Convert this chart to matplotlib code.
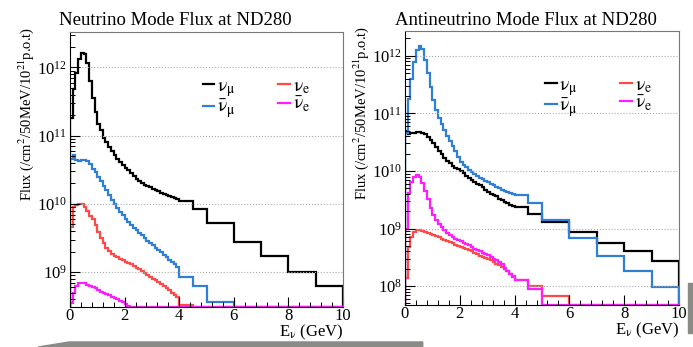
"""T2K ND280 flux predictions in neutrino and antineutrino mode."""
import numpy as np
import matplotlib
matplotlib.use('Agg')
import matplotlib.pyplot as plt
from matplotlib.patches import Polygon, Rectangle
from matplotlib.ticker import MultipleLocator, LogLocator, NullFormatter

# bin edges in GeV: 0.1 GeV up to 4, then coarser
edges = [round(0.1 * i, 1) for i in range(41)] + [4.5, 5, 6, 7, 8, 9, 10]

# neutrino mode (0 = below the axis)
nu_numu = [1.8e11, 4.8e11, 8.2e11, 1.35e12, 1.65e12, 1.55e12, 1.15e12, 6.4e11, 3.6e11, 2.2e11,
           1.5e11, 1.2e11, 9.4e10, 8.0e10, 6.8e10, 5.9e10, 5.2e10, 4.6e10, 4.1e10, 3.7e10,
           3.4e10, 3.1e10, 2.8e10, 2.55e10, 2.3e10, 2.15e10, 2.0e10, 1.9e10, 1.82e10, 1.75e10,
           1.68e10, 1.6e10, 1.53e10, 1.47e10, 1.42e10, 1.37e10, 1.32e10, 1.27e10, 1.22e10, 1.17e10,
           1.1e10, 8.3e9, 5.2e9, 2.8e9, 1.7e9, 1.0e9, 6.2e8]
nu_numubar = [4.6e10, 5.2e10, 4.4e10, 4.3e10, 4.4e10, 4.4e10, 4.2e10, 3.8e10, 3.3e10, 2.9e10,
              2.5e10, 2.15e10, 1.85e10, 1.6e10, 1.35e10, 1.15e10, 1.0e10, 8.8e9, 7.7e9, 6.8e9,
              6.0e9, 5.4e9, 4.9e9, 4.5e9, 4.1e9, 3.8e9, 3.5e9, 3.2e9, 2.9e9, 2.7e9,
              2.5e9, 2.3e9, 2.1e9, 1.95e9, 1.8e9, 1.65e9, 1.5e9, 1.4e9, 1.3e9, 1.2e9,
              8.5e8, 6.2e8, 3.6e8, 0, 0, 0, 0]
nu_nue = [4.6e9, 8.9e9, 9.5e9, 1.0e10, 1.0e10, 9.1e9, 7.9e9, 6.7e9, 6.0e9, 4.9e9,
          3.9e9, 3.2e9, 2.7e9, 2.3e9, 2.05e9, 1.85e9, 1.75e9, 1.65e9, 1.58e9, 1.5e9,
          1.42e9, 1.36e9, 1.3e9, 1.24e9, 1.17e9, 1.1e9, 1.04e9, 9.7e8, 9.0e8, 8.5e8,
          8.0e8, 7.6e8, 7.2e8, 6.7e8, 6.3e8, 5.9e8, 5.4e8, 5.0e8, 4.6e8, 4.3e8,
          3.3e8, 0, 0, 0, 0, 0, 0]
nu_nuebar = [3.5e8, 5.0e8, 6.3e8, 6.9e8, 7.0e8, 6.9e8, 6.6e8, 6.3e8, 6.0e8, 5.8e8,
             5.5e8, 5.2e8, 5.0e8, 4.8e8, 4.6e8, 4.4e8, 4.2e8, 4.0e8, 3.8e8, 3.6e8,
             3.4e8, 3.2e8, 0, 0, 0, 0, 0, 0, 0, 0,
             0, 0, 0, 0, 0, 0, 0, 0, 0, 0,
             0, 0, 0, 0, 0, 0, 0]

# antineutrino mode
anu_numu = [5.0e10, 4.4e10, 4.5e10, 4.6e10, 4.7e10, 4.8e10, 4.6e10, 4.3e10, 3.9e10, 3.5e10,
            3.0e10, 2.6e10, 2.25e10, 1.95e10, 1.7e10, 1.5e10, 1.36e10, 1.24e10, 1.14e10, 1.06e10,
            9.9e9, 9.1e9, 8.3e9, 7.6e9, 7.0e9, 6.5e9, 6.0e9, 5.6e9, 5.2e9, 4.7e9,
            4.3e9, 4.0e9, 3.8e9, 3.6e9, 3.3e9, 3.1e9, 2.9e9, 2.75e9, 2.6e9, 2.5e9,
            2.4e9, 1.8e9, 1.3e9, 8.7e8, 5.6e8, 4.0e8, 2.7e8]
anu_numubar = [4.5e10, 1.75e11, 4.0e11, 7.9e11, 1.25e12, 1.45e12, 1.3e12, 8.5e11, 5.0e11, 2.9e11,
               1.7e11, 1.15e11, 8.4e10, 6.4e10, 5.2e10, 4.1e10, 3.3e10, 2.7e10, 2.2e10, 1.75e10,
               1.45e10, 1.28e10, 1.15e10, 1.03e10, 9.4e9, 8.8e9, 8.2e9, 7.6e9, 7.1e9, 6.7e9,
               6.3e9, 6.0e9, 5.7e9, 5.3e9, 5.0e9, 4.7e9, 4.5e9, 4.3e9, 4.1e9, 4.0e9,
               3.8e9, 2.8e9, 1.4e9, 6.8e8, 3.3e8, 1.8e8, 9.6e7]
anu_nue = [1.4e8, 4.8e8, 7.0e8, 8.7e8, 9.3e8, 9.3e8, 9.0e8, 8.6e8, 8.2e8, 7.9e8,
           7.6e8, 7.3e8, 7.0e8, 6.6e8, 6.3e8, 6.0e8, 5.8e8, 5.5e8, 5.2e8, 5.0e8,
           4.8e8, 4.6e8, 4.4e8, 4.2e8, 4.0e8, 3.8e8, 3.6e8, 3.4e8, 3.25e8, 3.1e8,
           3.0e8, 2.8e8, 2.6e8, 2.45e8, 2.3e8, 2.15e8, 2.0e8, 1.8e8, 1.65e8, 1.5e8,
           1.3e8, 1.0e8, 6.7e7, 0, 0, 0, 0]
anu_nuebar = [1.0e9, 4.1e9, 6.5e9, 7.9e9, 8.5e9, 8.0e9, 6.2e9, 4.4e9, 3.2e9, 2.3e9,
              1.7e9, 1.4e9, 1.2e9, 1.05e9, 9.5e8, 8.5e8, 7.8e8, 7.2e8, 6.7e8, 6.3e8,
              6.0e8, 5.7e8, 5.4e8, 5.1e8, 4.8e8, 4.5e8, 4.2e8, 4.0e8, 3.8e8, 3.6e8,
              3.45e8, 3.2e8, 3.0e8, 2.8e8, 2.6e8, 2.4e8, 2.1e8, 1.85e8, 1.6e8, 1.45e8,
              1.3e8, 9.0e7, 0, 0, 0, 0, 0]

labels = [r'$\mathrm{ν}_\mathrm{μ}$', r'$\bar{\mathrm{ν}}_\mathrm{μ}$',
          r'$\mathrm{ν}_\mathrm{e}$', r'$\bar{\mathrm{ν}}_\mathrm{e}$']
colors = ['black', '#2f7fd6', '#ff4a4a', '#ff1cff']

plt.rcParams['font.family'] = 'serif'
plt.rcParams['font.serif'] = ['Liberation Serif', 'DejaVu Serif']
plt.rcParams['mathtext.fontset'] = 'stix'

fig = plt.figure(figsize=(6.93, 3.47), dpi=100)


def draw_panel(rect, series, ylim, title, title_x, leg_x):
    """Draws one flux panel in ROOT style."""
    ax = fig.add_axes(rect)
    for vals, col, lab in zip(series, colors, labels):
        v = np.maximum(np.array(vals, dtype=float), ylim[0])
        ax.stairs(v, edges, baseline=ylim[0], color=col, lw=1.6, label=lab)
    ax.set_yscale('log')
    ax.set_xlim(0, 10)
    ax.set_ylim(*ylim)
    ax.yaxis.set_major_locator(LogLocator(base=10, numticks=20))
    ax.yaxis.set_minor_locator(LogLocator(base=10, subs=np.arange(2, 10), numticks=20))
    ax.yaxis.set_minor_formatter(NullFormatter())
    ax.xaxis.set_major_locator(MultipleLocator(2))
    ax.xaxis.set_minor_locator(MultipleLocator(0.4))
    ax.tick_params(which='both', direction='in', labelsize=12, right=False, top=False)
    ax.tick_params(which='major', length=7, width=0.8)
    ax.tick_params(which='minor', length=3.5, width=0.7)
    ax.tick_params(axis='y', pad=2)
    ax.tick_params(axis='x', pad=1)
    ax.grid(axis='y', which='major', color='#aaaaaa', ls=':', lw=0.8)
    for side in ['top', 'right']:
        ax.spines[side].set_color('#777777')
    ax.set_ylabel(r'Flux (/cm$^2$/50MeV/10$^{21}$p.o.t)', loc='top', fontsize=10.5)
    ax.yaxis.set_label_coords(-0.125, 1.02)
    ax.set_xlabel(r'E$_\mathrm{ν}$ (GeV)', loc='right', fontsize=12, labelpad=-1)
    ax.legend(ncol=2, loc='upper left', bbox_to_anchor=(leg_x, 0.87), frameon=False,
              fontsize=14, handlelength=0.6, handletextpad=0.15, columnspacing=2.2,
              labelspacing=-0.05, borderpad=0)
    fig.text(title_x, 0.94, title, ha='center', va='center', fontsize=13.5)
    return ax


draw_panel([0.101, 0.115, 0.394, 0.7925],
           [nu_numu, nu_numubar, nu_nue, nu_nuebar],
           (3.08e8, 3.3e12), 'Neutrino Mode Flux at ND280', 0.253, 0.45)
draw_panel([0.5844, 0.121, 0.3954, 0.79],
           [anu_numu, anu_numubar, anu_nue, anu_nuebar],
           (4.7e7, 2.7e12), 'Antineutrino Mode Flux at ND280', 0.759, 0.475)

# slide decorations (grey shadow strips)
fig.patches.append(Polygon([[0.055, 0.0], [0.10, 0.0145], [0.61, 0.0145], [0.61, 0.0]],
                           closed=True, transform=fig.transFigure, color='#8a8a86'))
fig.patches.append(Rectangle((0.993, 0.04), 0.007, 0.145, transform=fig.transFigure,
                             color='#8a8a86'))

fig.savefig('out.png', dpi=100)
